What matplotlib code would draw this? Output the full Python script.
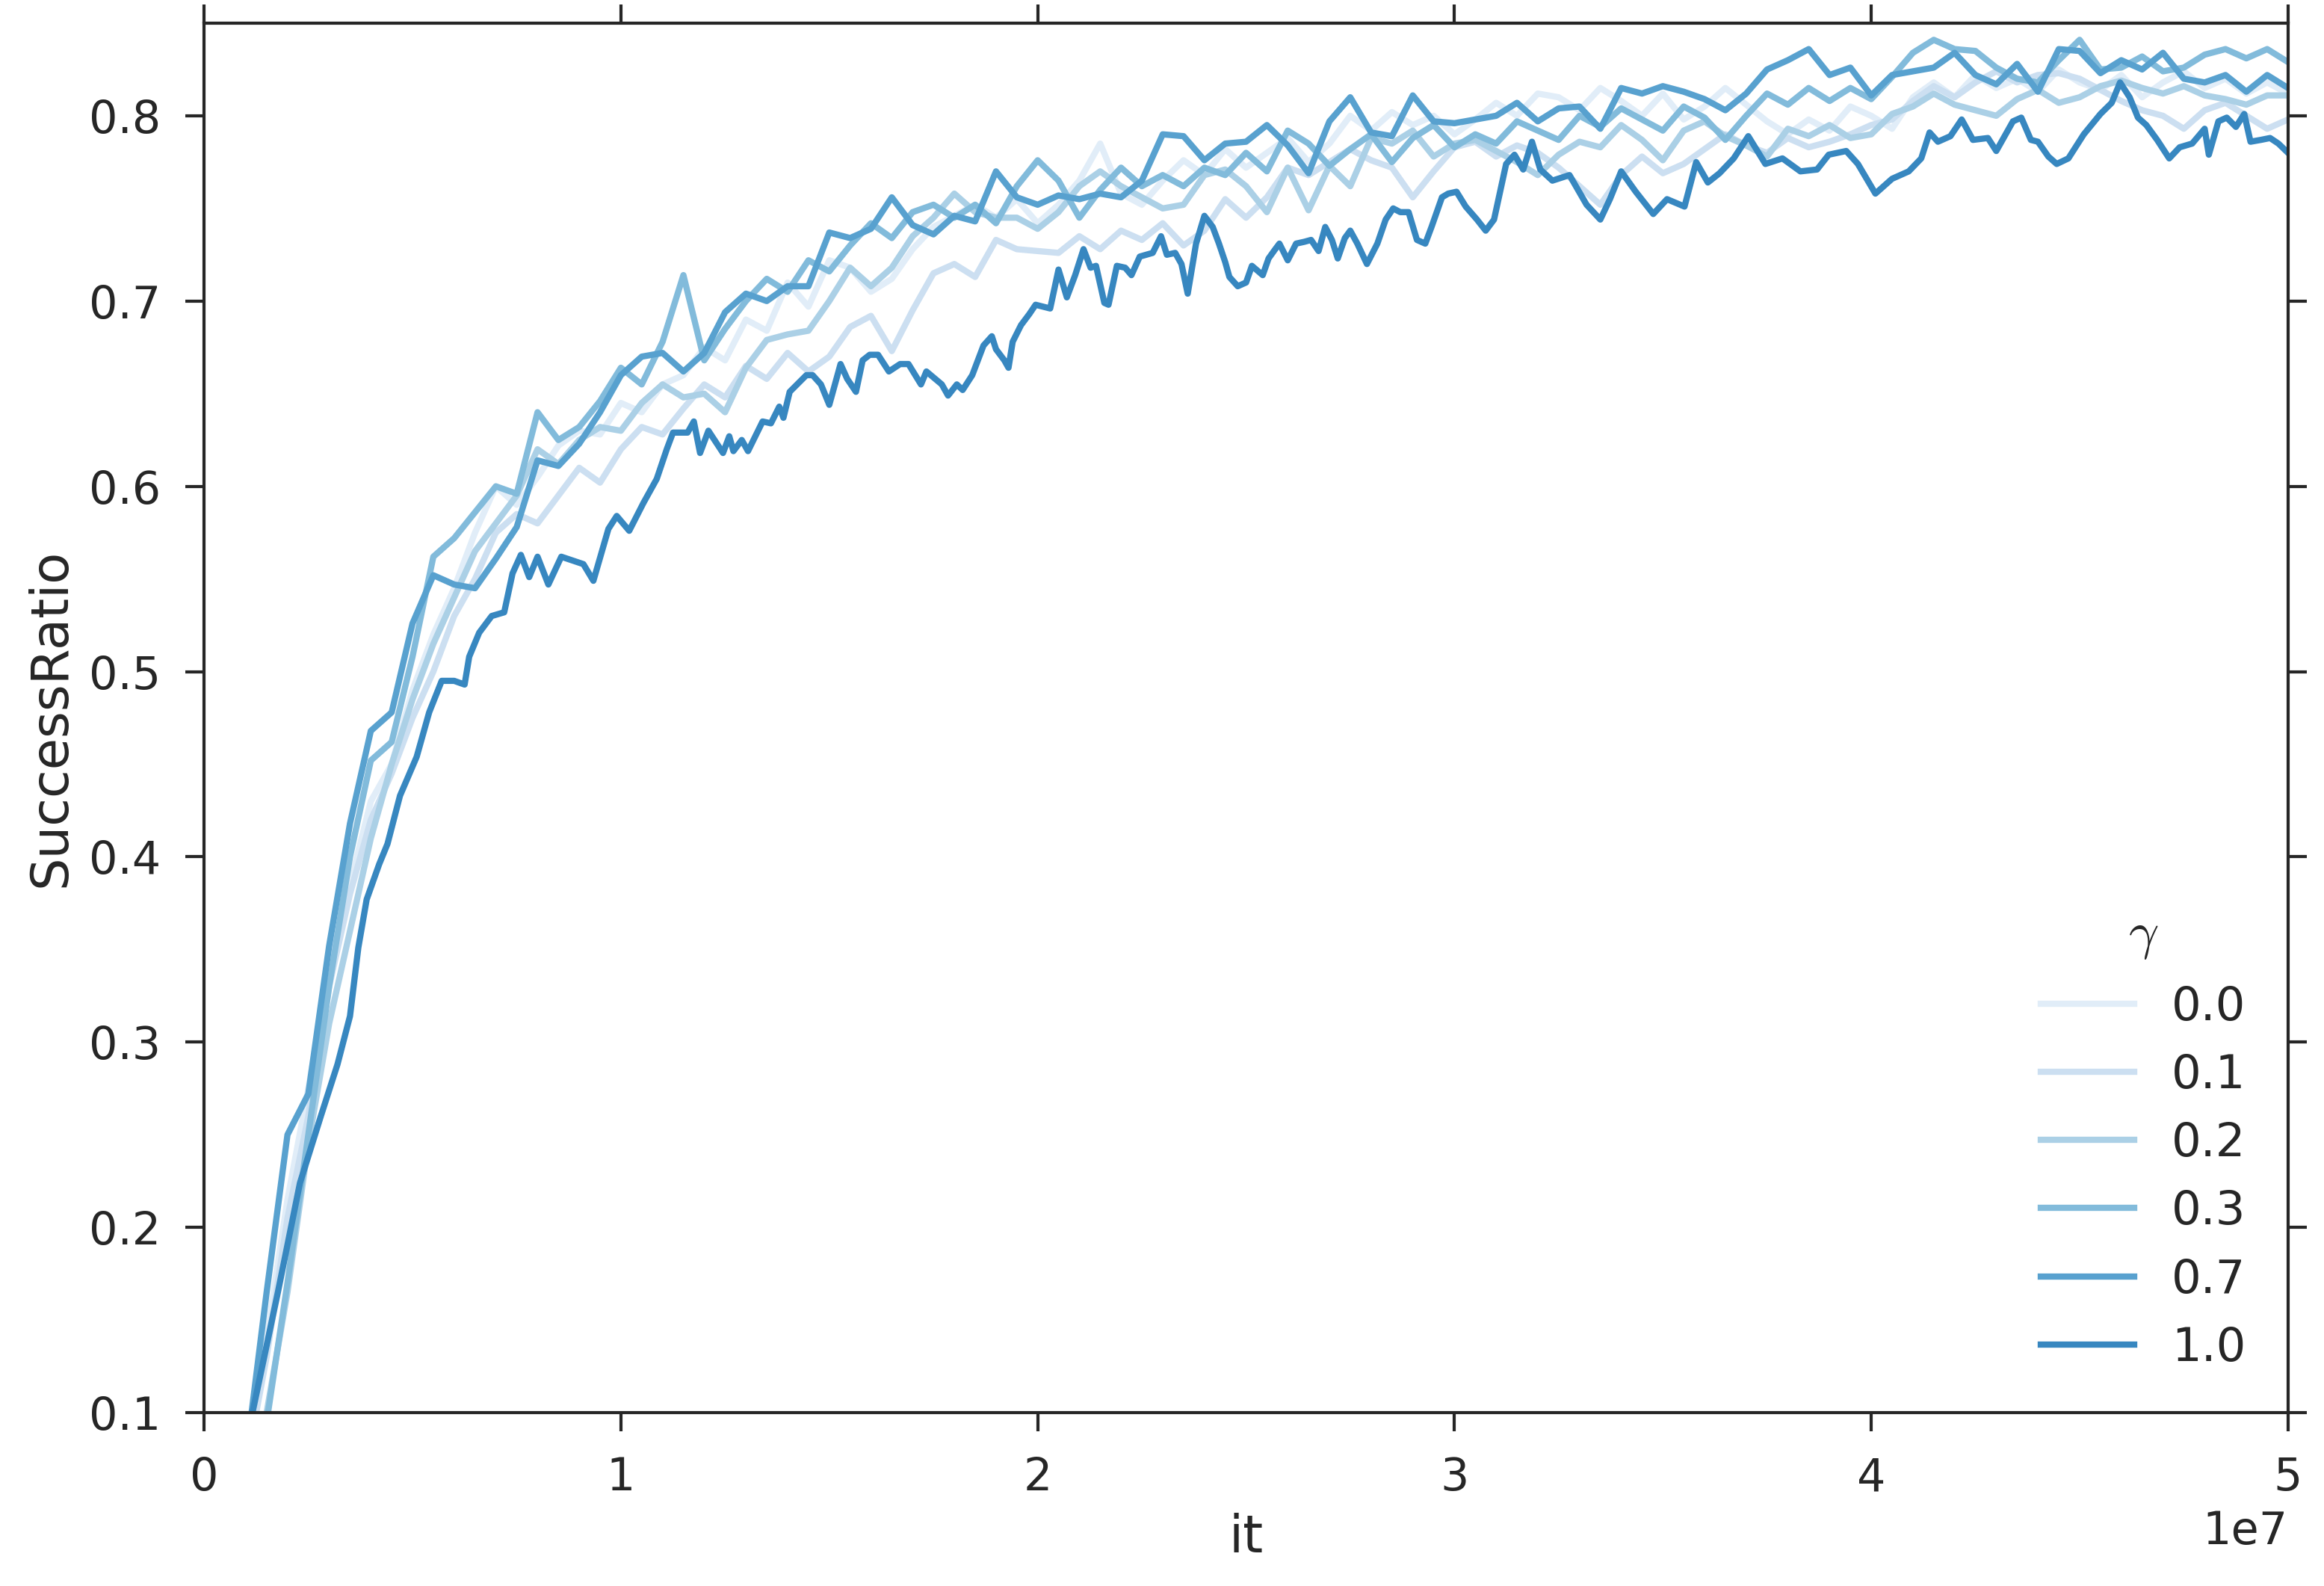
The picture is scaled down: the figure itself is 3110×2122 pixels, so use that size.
import matplotlib
matplotlib.use("Agg")
import matplotlib.pyplot as plt
import numpy as np

# gamma values of the six runs (legend labels)
gammas = ["0.0", "0.1", "0.2", "0.3", "0.7", "1.0"]

# shared sampling of the iteration axis (millions), used by the first five runs
it_grid = np.arange(1.0, 50.01, 0.5) * 1e6

ratio_g00 = [
    0.08, 0.14, 0.215, 0.275, 0.34, 0.385, 0.43, 0.45, 0.49, 0.52,
    0.545, 0.575, 0.60, 0.59, 0.605, 0.622, 0.63, 0.628, 0.645, 0.64,
    0.655, 0.66, 0.675, 0.668, 0.69, 0.684, 0.71, 0.697, 0.722, 0.718,
    0.705, 0.712, 0.728, 0.74, 0.746, 0.752, 0.745, 0.755, 0.742, 0.752,
    0.765, 0.785, 0.758, 0.752, 0.765, 0.776, 0.768, 0.782, 0.772, 0.78,
    0.788, 0.775, 0.785, 0.80, 0.792, 0.802, 0.795, 0.80, 0.79, 0.798,
    0.807, 0.80, 0.812, 0.81, 0.803, 0.815, 0.808, 0.80, 0.812, 0.798,
    0.805, 0.815, 0.806, 0.797, 0.79, 0.798, 0.792, 0.805, 0.80, 0.793,
    0.81, 0.818, 0.81, 0.822, 0.815, 0.82, 0.813, 0.825, 0.818, 0.814,
    0.822, 0.81, 0.818, 0.824, 0.815, 0.82, 0.812, 0.818, 0.812,
]

ratio_g01 = [
    0.07, 0.13, 0.205, 0.26, 0.33, 0.38, 0.42, 0.445, 0.475, 0.50,
    0.53, 0.55, 0.575, 0.585, 0.58, 0.595, 0.61, 0.602, 0.62, 0.632,
    0.628, 0.642, 0.655, 0.648, 0.665, 0.658, 0.672, 0.662, 0.67, 0.686,
    0.692, 0.673, 0.695, 0.715, 0.72, 0.713, 0.733, 0.728, 0.727, 0.726,
    0.735, 0.728, 0.738, 0.733, 0.742, 0.73, 0.738, 0.755, 0.745, 0.756,
    0.772, 0.768, 0.775, 0.782, 0.776, 0.772, 0.756, 0.770, 0.783, 0.786,
    0.778, 0.784, 0.780, 0.772, 0.762, 0.752, 0.768, 0.778, 0.769, 0.774,
    0.782, 0.79, 0.784, 0.78, 0.788, 0.783, 0.786, 0.790, 0.795, 0.798,
    0.808, 0.816, 0.81, 0.818, 0.824, 0.818, 0.822, 0.823, 0.82, 0.814,
    0.808, 0.803, 0.80, 0.793, 0.803, 0.807, 0.80, 0.793, 0.798,
]

ratio_g02 = [
    0.06, 0.10, 0.165, 0.245, 0.31, 0.36, 0.41, 0.45, 0.485, 0.515,
    0.54, 0.565, 0.58, 0.595, 0.62, 0.612, 0.625, 0.632, 0.63, 0.645,
    0.655, 0.648, 0.65, 0.64, 0.664, 0.679, 0.682, 0.684, 0.70, 0.718,
    0.708, 0.718, 0.735, 0.745, 0.758, 0.748, 0.745, 0.745, 0.739, 0.748,
    0.762, 0.770, 0.762, 0.756, 0.75, 0.752, 0.768, 0.771, 0.762, 0.748,
    0.772, 0.749, 0.773, 0.762, 0.788, 0.785, 0.792, 0.778, 0.785, 0.787,
    0.781, 0.775, 0.768, 0.779, 0.786, 0.783, 0.795, 0.787, 0.776, 0.792,
    0.797, 0.789, 0.784, 0.778, 0.793, 0.789, 0.795, 0.788, 0.79, 0.801,
    0.805, 0.812, 0.806, 0.803, 0.8, 0.809, 0.814, 0.807, 0.81, 0.816,
    0.819, 0.815, 0.812, 0.816, 0.811, 0.809, 0.806, 0.811, 0.811,
]

ratio_g03 = [
    0.06, 0.095, 0.17, 0.25, 0.33, 0.40, 0.452, 0.462, 0.508, 0.562,
    0.572, 0.586, 0.60, 0.596, 0.64, 0.625, 0.632, 0.646, 0.664, 0.655,
    0.678, 0.714, 0.668, 0.685, 0.70, 0.712, 0.705, 0.722, 0.716, 0.73,
    0.742, 0.734, 0.748, 0.752, 0.745, 0.752, 0.742, 0.762, 0.776, 0.765,
    0.745, 0.760, 0.772, 0.762, 0.768, 0.762, 0.772, 0.768, 0.780, 0.770,
    0.792, 0.785, 0.773, 0.782, 0.790, 0.775, 0.788, 0.795, 0.783, 0.790,
    0.785, 0.797, 0.792, 0.787, 0.800, 0.794, 0.804, 0.798, 0.792, 0.805,
    0.799, 0.787, 0.800, 0.812, 0.806, 0.815, 0.808, 0.815, 0.809, 0.821,
    0.834, 0.841, 0.836, 0.835, 0.826, 0.820, 0.818, 0.830, 0.841, 0.825,
    0.826, 0.832, 0.824, 0.826, 0.833, 0.836, 0.831, 0.836, 0.829,
]

ratio_g07 = [
    0.075, 0.165, 0.25, 0.272, 0.352, 0.418, 0.468, 0.478, 0.526, 0.552,
    0.547, 0.545, 0.561, 0.578, 0.614, 0.611, 0.623, 0.640, 0.660, 0.67,
    0.672, 0.662, 0.672, 0.694, 0.704, 0.700, 0.708, 0.708, 0.737, 0.734,
    0.739, 0.756, 0.741, 0.736, 0.746, 0.743, 0.77, 0.756, 0.752, 0.757,
    0.755, 0.758, 0.756, 0.765, 0.790, 0.789, 0.776, 0.785, 0.786, 0.795,
    0.784, 0.769, 0.797, 0.810, 0.791, 0.789, 0.811, 0.797, 0.796, 0.798,
    0.800, 0.807, 0.797, 0.804, 0.805, 0.793, 0.815, 0.812, 0.816, 0.813,
    0.809, 0.803, 0.812, 0.825, 0.830, 0.836, 0.822, 0.826, 0.811, 0.822,
    0.824, 0.826, 0.834, 0.822, 0.817, 0.828, 0.813, 0.836, 0.835, 0.823,
    0.830, 0.825, 0.834, 0.820, 0.818, 0.822, 0.813, 0.822, 0.815,
]

# gamma = 1.0 run, traced with its own (finer) iteration positions, in millions
it_g10 = [
    1.0, 1.16, 1.77, 2.30, 2.80, 3.20, 3.50, 3.70, 3.90, 4.20,
    4.40, 4.70, 5.10, 5.40, 5.70, 6.00, 6.25, 6.36, 6.60, 6.90,
    7.20, 7.40, 7.60, 7.80, 8.00, 8.26, 8.57, 9.10, 9.34, 9.70,
    9.90, 10.2, 10.54, 10.86, 11.10, 11.25, 11.60, 11.75, 11.90, 12.10,
    12.45, 12.60, 12.70, 12.90, 13.05, 13.40, 13.60, 13.80, 13.90, 14.05,
    14.45, 14.60, 14.80, 15.00, 15.27, 15.43, 15.64, 15.80, 15.97, 16.17,
    16.43, 16.70, 16.90, 17.20, 17.33, 17.70, 17.85, 18.06, 18.20, 18.43,
    18.70, 18.90, 19.00, 19.20, 19.30, 19.40, 19.60, 19.80, 19.95, 20.30,
    20.50, 20.70, 20.90, 21.10, 21.27, 21.40, 21.60, 21.70, 21.90, 22.10,
    22.25, 22.45, 22.76, 22.96, 23.10, 23.30, 23.45, 23.60, 23.80, 24.00,
    24.20, 24.35, 24.50, 24.60, 24.80, 25.00, 25.14, 25.40, 25.54, 25.70,
    25.80, 26.00, 26.20, 26.40, 26.56, 26.74, 26.90, 27.06, 27.20, 27.37,
    27.50, 27.67, 27.90, 28.15, 28.35, 28.53, 28.70, 28.90, 29.10, 29.30,
    29.45, 29.70, 29.85, 30.05, 30.27, 30.54, 30.75, 30.95, 31.24, 31.44,
    31.65, 31.86, 32.06, 32.35, 32.76, 33.17, 33.50, 33.73, 34.00, 34.35,
    34.77, 35.10, 35.52, 35.80, 36.08, 36.36, 36.70, 37.05, 37.46, 37.87,
    38.30, 38.70, 38.98, 39.40, 39.68, 40.10, 40.50, 40.90, 41.20, 41.40,
    41.60, 41.90, 42.17, 42.44, 42.80, 43.00, 43.40, 43.60, 43.83, 44.00,
    44.25, 44.45, 44.73, 45.10, 45.50, 45.77, 45.97, 46.20, 46.40, 46.60,
    46.86, 47.15, 47.40, 47.70, 48.00, 48.10, 48.33, 48.53, 48.75, 48.95,
    49.10, 49.35, 49.57, 49.77, 50.00,
]
ratio_g10 = [
    0.07, 0.10, 0.165, 0.224, 0.26, 0.288, 0.314, 0.351, 0.377, 0.396,
    0.407, 0.433, 0.454, 0.478, 0.495, 0.495, 0.493, 0.508, 0.521, 0.530,
    0.532, 0.553, 0.563, 0.551, 0.562, 0.547, 0.562, 0.558, 0.549, 0.577,
    0.584, 0.576, 0.591, 0.604, 0.620, 0.629, 0.629, 0.635, 0.618, 0.630,
    0.618, 0.627, 0.619, 0.625, 0.619, 0.635, 0.634, 0.643, 0.637, 0.651,
    0.660, 0.660, 0.655, 0.644, 0.666, 0.658, 0.651, 0.668, 0.671, 0.671,
    0.662, 0.666, 0.666, 0.655, 0.662, 0.655, 0.649, 0.655, 0.652, 0.660,
    0.676, 0.681, 0.674, 0.668, 0.664, 0.678, 0.687, 0.693, 0.698, 0.696,
    0.717, 0.702, 0.714, 0.728, 0.718, 0.719, 0.699, 0.698, 0.719, 0.718,
    0.714, 0.724, 0.726, 0.735, 0.725, 0.726, 0.720, 0.704, 0.731, 0.746,
    0.740, 0.731, 0.721, 0.713, 0.708, 0.710, 0.719, 0.714, 0.723, 0.728,
    0.731, 0.722, 0.731, 0.732, 0.733, 0.727, 0.740, 0.733, 0.723, 0.734,
    0.738, 0.731, 0.720, 0.731, 0.744, 0.750, 0.748, 0.748, 0.733, 0.731,
    0.740, 0.756, 0.758, 0.759, 0.751, 0.744, 0.738, 0.744, 0.774, 0.779,
    0.771, 0.786, 0.771, 0.765, 0.768, 0.752, 0.744, 0.755, 0.770, 0.759,
    0.747, 0.755, 0.751, 0.775, 0.764, 0.769, 0.777, 0.789, 0.774, 0.777,
    0.770, 0.771, 0.779, 0.781, 0.774, 0.758, 0.766, 0.770, 0.777, 0.791,
    0.786, 0.789, 0.798, 0.787, 0.788, 0.781, 0.797, 0.799, 0.787, 0.786,
    0.778, 0.774, 0.777, 0.790, 0.801, 0.807, 0.818, 0.810, 0.799, 0.795,
    0.787, 0.777, 0.783, 0.785, 0.793, 0.779, 0.797, 0.799, 0.794, 0.801,
    0.786, 0.787, 0.788, 0.785, 0.780,
]

TEXT = "#262626"
plt.rcParams["font.family"] = ["DejaVu Sans"]
plt.rcParams["mathtext.fontset"] = "cm"
plt.rcParams["text.color"] = TEXT
plt.rcParams["axes.labelcolor"] = TEXT
plt.rcParams["axes.edgecolor"] = TEXT
plt.rcParams["xtick.color"] = TEXT
plt.rcParams["ytick.color"] = TEXT

# first six of an 8-step Blues palette
colors = plt.cm.Blues(np.linspace(0, 1, 10)[1:7])

fig = plt.figure(figsize=(3111 / 300, 2122 / 300), dpi=300)
ax = fig.add_axes([0.0878, 0.1093, 0.8964, 0.8761])

series = [
    (it_grid, ratio_g00),
    (it_grid, ratio_g01),
    (it_grid, ratio_g02),
    (it_grid, ratio_g03),
    (it_grid, ratio_g07),
    (np.array(it_g10) * 1e6, ratio_g10),
]
for (x, y), label, color in zip(series, gammas, colors):
    ax.plot(x, y, color=color, linewidth=2.0, label=label)

ax.set_xlim(0, 5e7)
ax.set_ylim(0.1, 0.85)
ax.set_yticks([0.1, 0.2, 0.3, 0.4, 0.5, 0.6, 0.7, 0.8])
ax.set_xlabel("it", fontsize=16.5)
ax.set_ylabel("SuccessRatio", fontsize=16.5)

for side in ax.spines.values():
    side.set_linewidth(1.0)
ax.tick_params(direction="out", top=True, right=True, length=6, width=1.0,
               pad=8, labelsize=14.5)
ax.xaxis.get_offset_text().set_fontsize(14.5)

leg = ax.legend(title=r"$\gamma$", loc="lower right", frameon=False,
                fontsize=15, title_fontsize=17, handlelength=2.0,
                labelspacing=0.5, borderaxespad=0.5)
for line in leg.get_lines():
    line.set_linewidth(2.0)

fig.savefig("out.png", dpi=300)
